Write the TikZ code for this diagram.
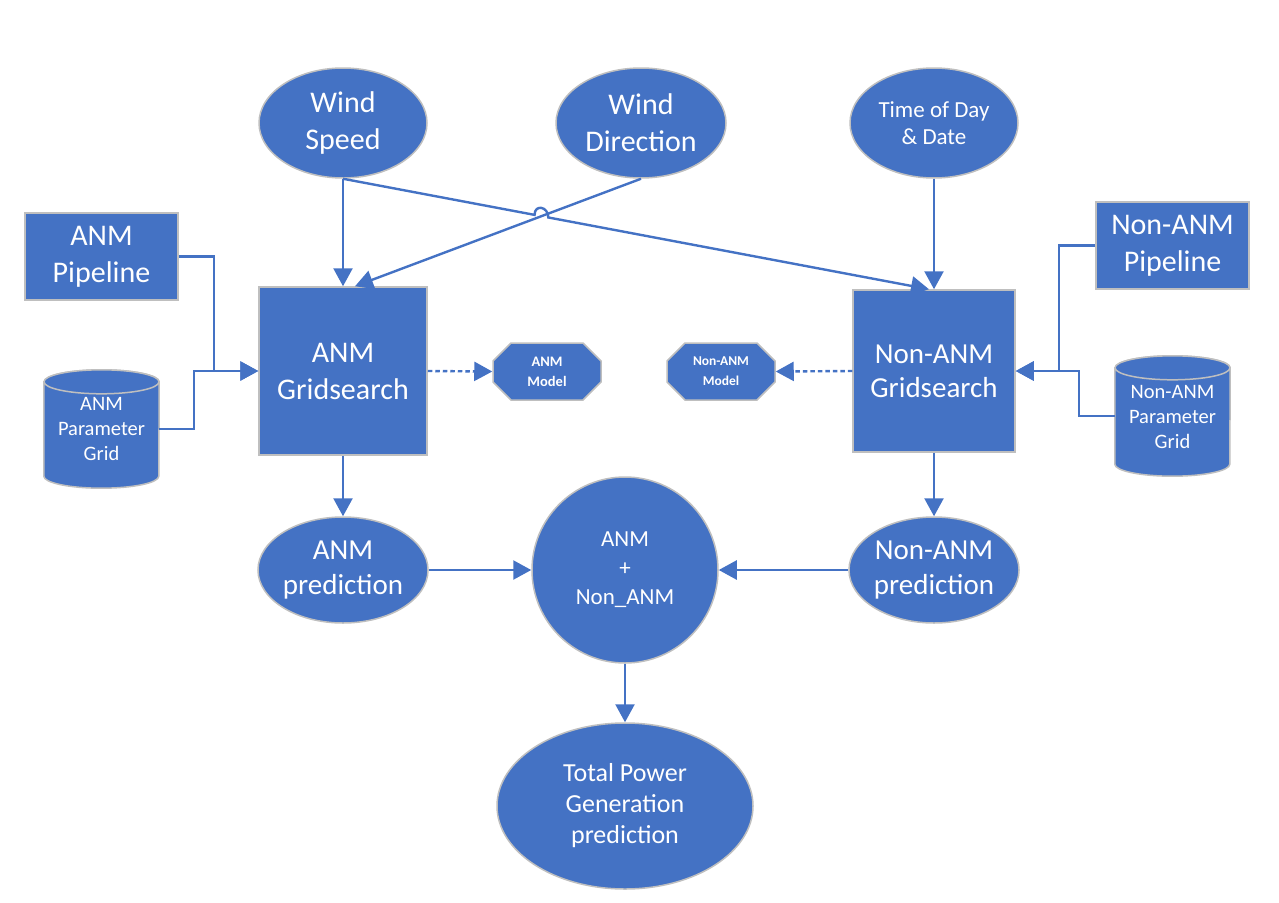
\documentclass[tikz,border=0pt]{standalone}
\usepackage{fontspec}
\setmainfont{Carlito}
\usetikzlibrary{shapes.geometric,shapes.misc,arrows.meta,calc,intersections}
\definecolor{bl}{HTML}{4472C4}
\definecolor{bd}{HTML}{BFBFBF}
\begin{document}
\begin{tikzpicture}[x=1pt,y=-1pt,
  shp/.style={fill=bl,draw=bd,line width=1.5pt,text=white,align=center,inner sep=0pt},
  ell/.style={shp,ellipse},
  box/.style={shp,rectangle},
  oct/.style={shp,chamfered rectangle,chamfered rectangle xsep=9pt,chamfered rectangle ysep=9pt},
  cylbox/.style={rectangle,inner sep=0pt,text=white,align=center},
  ln/.style={draw=bl,line width=2.4pt},
  conn/.style={ln,-{Triangle[length=18pt,width=19pt]}},
  dotc/.style={conn,dash pattern=on 4.5pt off 3pt},
  big/.style={font=\fontsize{30}{37}\selectfont},
]
\useasboundingbox (0,0) rectangle (1279,902);

% top inputs
\node[ell,big,minimum width=168,minimum height=110] (ws) at (343,123) {Wind\\Speed};
\node[ell,big,minimum width=170,minimum height=110] (wd) at (641,123) {Wind\\Direction};
\node[ell,minimum width=168,minimum height=110,font=\fontsize{23}{27}\selectfont] (td) at (934,123) {Time of Day\\\& Date};

% pipelines
\node[box,big,minimum width=153,minimum height=87] (ap) at (101.5,256.5) {ANM\\Pipeline};
\node[box,big,minimum width=153,minimum height=87] (np) at (1172.5,245.5) {Non-ANM\\Pipeline};

% gridsearch
\node[box,big,minimum width=168,minimum height=168] (ags) at (343,371) {ANM\\Gridsearch};
\node[box,minimum width=162,minimum height=162,font=\fontsize{29}{34}\selectfont] (ngs) at (934,371) {Non-ANM\\Gridsearch};

% models
\node[oct,minimum width=108,minimum height=57,font=\bfseries\fontsize{14.5}{20}\selectfont] (am) at (547,371.5) {ANM\\Model};
\node[oct,minimum width=108,minimum height=57,font=\bfseries\fontsize{13.5}{20}\selectfont] (nm) at (721,371.5) {Non-ANM\\Model};

% parameter grids (cylinders)
\node[cylbox,minimum width=115,minimum height=118] (ag) at (101.5,429) {};
\node[cylbox,minimum width=115,minimum height=120] (ng) at (1172.5,416) {};
\foreach \c in {ag,ng}{
  \draw[fill=bl,draw=bd,line width=1.5pt]
    ([yshift=-12pt]\c.north west) -- ([yshift=12pt]\c.south west)
    arc[start angle=180,end angle=360,x radius=57.5pt,y radius=12pt]
    -- ([yshift=-12pt]\c.north east)
    arc[start angle=0,end angle=180,x radius=57.5pt,y radius=12pt] -- cycle;
  \draw[fill=bl,draw=bd,line width=1.5pt] ([yshift=-12pt]\c.north) ellipse[x radius=57.5pt,y radius=12pt];
}
\node[cylbox,font=\fontsize{20.5}{25}\selectfont] (agt) at (101.5,429) {ANM\\Parameter\\Grid};
\node[cylbox,font=\fontsize{20.5}{25}\selectfont] (ngt) at (1172.5,417) {Non-ANM\\Parameter\\Grid};

% predictions
\node[ell,minimum width=168,minimum height=106,font=\fontsize{29}{35}\selectfont] (apr) at (343,570) {ANM\\prediction};
\node[ell,minimum width=168,minimum height=106,font=\fontsize{29}{35}\selectfont] (npr) at (934,570) {Non-ANM\\prediction};
\node[shp,circle,minimum size=186,font=\fontsize{23}{29}\selectfont] (sum) at (625,570) {ANM\\+\\Non\_ANM};
\node[ell,minimum width=256,minimum height=166,font=\fontsize{26}{31}\selectfont] (tot) at (625,806) {Total Power\\Generation\\prediction};

% connectors from inputs
\draw[conn] (ws.south) -- (ags.north);
\draw[conn] (td.south) -- (ngs.north);
\coordinate (ngin) at ([xshift=-5pt]ngs.north);
\coordinate (agin) at ([xshift=12pt]ags.north);
\draw[conn] (wd.south) -- (agin);
\path[name path=la] (ws.south) -- (ngin);
\path[name path=lb] (wd.south) -- (agin);
\path[name intersections={of=la and lb, by=X}];
\coordinate (h1) at ($(X)!7pt!(ws.south)$);
\coordinate (h2) at ($(X)!7pt!(ngin)$);
\draw[conn] (ws.south) -- (h1) .. controls ([yshift=11pt]h1) and ([yshift=11pt]h2) .. (h2) -- (ngin);

% pipelines and grids into gridsearch
\draw[conn] (ap.east) -- ++(35,0) |- (ags.west);
\draw[conn] (ag.east) -- ++(35,0) |- (ags.west);
\draw[conn] (np.west) -- ++(-36,0) |- (ngs.east);
\draw[conn] (ng.west) -- ++(-36,0) |- (ngs.east);

% models
\draw[dotc] (ags.east) -- (am.west);
\draw[dotc] (ngs.west) -- (nm.east);

% predictions
\draw[conn] (ags.south) -- (apr.north);
\draw[conn] (ngs.south) -- (npr.north);
\draw[conn] (apr.east) -- (sum.west);
\draw[conn] (npr.west) -- (sum.east);
\draw[conn] (sum.south) -- (tot.north);
\end{tikzpicture}
\end{document}
